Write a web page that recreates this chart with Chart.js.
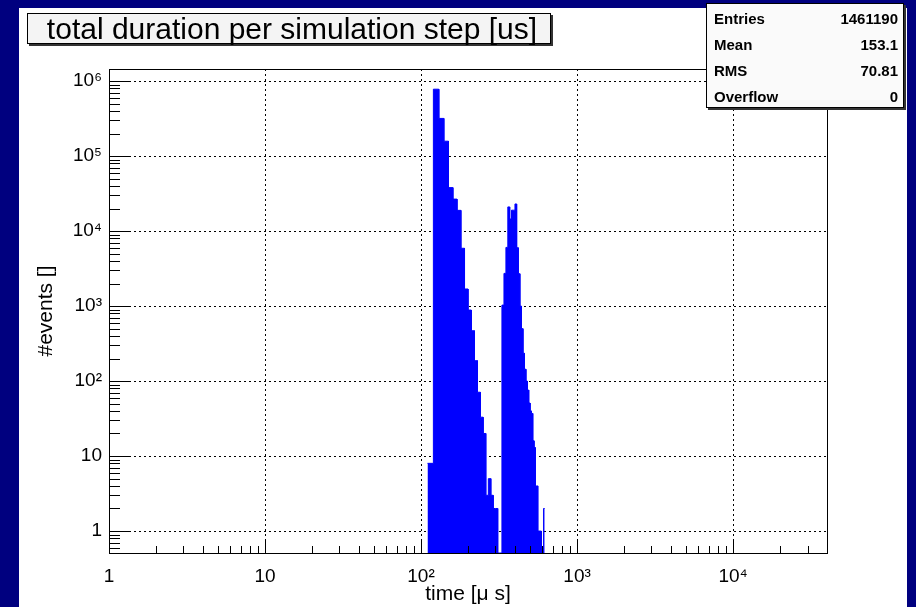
<!DOCTYPE html>
<html>
<head>
<meta charset="utf-8">
<title>total duration per simulation step</title>
<script src="https://cdn.jsdelivr.net/npm/chart.js@4.4.0/dist/chart.umd.min.js"></script>
<style>
  html, body { margin: 0; padding: 0; }
  body { width: 916px; height: 607px; background: #00007f; position: relative; overflow: hidden;
         font-family: "Liberation Sans", Arial, sans-serif; }
  #pad { position: absolute; left: 19px; top: 8px; width: 888px; height: 599px; background: #fff; }
  #chart { position: absolute; left: 0; top: 0; }
  .box { position: absolute; background: #f4f4f4; border: 1px solid #000; box-shadow: 2px 2px 0 #333; }
  #title { left: 27px; top: 13px; width: 516px; height: 29px; padding-left: 6px; font-size: 30px; line-height: 30px; text-align: center; white-space: nowrap; }
  #stats { left: 706px; top: 3px; width: 196px; height: 103px; font-weight: bold; font-size: 15px; background: #fafafa; }
  .row { position: absolute; left: 7px; right: 5px; height: 26px; line-height: 26px; display: flex; justify-content: space-between; }
</style>
</head>
<body>
<div id="pad"></div>
<canvas id="chart" width="916" height="607"></canvas>
<div id="title" class="box">total duration per simulation step [us]</div>
<div id="stats" class="box"></div>
<script>
// histogram: lower bin edges [us] and counts per bin (bin width 10 us)
const binLow = [110, 120, 130, 140, 150, 160, 170, 180, 190, 200,
                210, 220, 230, 240, 250, 260, 270, 280, 290, 300,
                310, 320, 330, 340, 350, 360, 370, 380, 390, 400,
                410, 420, 430, 440, 450, 460, 470, 480, 490, 500,
                510, 520, 530, 540, 550, 560, 570, 580, 590, 600, 610];
const counts = [8, 780000, 318000, 158000, 38000, 26700, 18900, 5900, 1690, 885,
                469, 187, 71, 33, 20, 3, 5, 3, 2, 2,
                0, 0, 1030, 2730, 6060, 21000, 14500, 19000, 19000, 23000,
                6000, 2700, 1000, 500, 235, 144, 100, 76, 51, 40,
                37, 16, 13, 4, 4, 1, 1, 1, 0, 0, 2];
const binWidth = 10;

const xTickValues = [1, 10, 100, 1000, 10000];
const xTickLabels = ['1', '10', '10²', '10³', '10⁴'];
const yTickValues = [1, 10, 100, 1000, 10000, 100000, 1000000];
const yTickLabels = ['1', '10', '10²', '10³', '10⁴', '10⁵', '10⁶'];

const statNames = ['Entries', 'Mean', 'RMS', 'Overflow'];
const statValues = ['1461190', '153.1', '70.81', '0'];

const xMin = 1, xMax = 40000;
const yMin = 0.51, yMax = 1.45e6;

// stats box
const statsBox = document.getElementById('stats');
statNames.forEach((name, i) => {
  const row = document.createElement('div');
  row.className = 'row';
  row.style.top = (2 + i * 26) + 'px';
  row.innerHTML = '<span>' + name + '</span><span>' + statValues[i] + '</span>';
  statsBox.appendChild(row);
});

// histogram outline: both edges of every bin, empty bins sit on the axis floor
const points = [];
binLow.forEach((lo, i) => {
  const y = counts[i] > 0 ? counts[i] : yMin;
  points.push({ x: lo, y: y }, { x: lo + binWidth, y: y });
});

const minorTicks = (lo, hi) => {
  const out = [];
  for (let d = 0.1; d <= hi; d *= 10) {
    for (let k = 2; k <= 9; k++) {
      const v = k * d;
      if (v > lo && v < hi) out.push(v);
    }
  }
  return out;
};

// ROOT style frame: dotted grid under the bars, ticks pointing inward on top
const rootFrame = {
  id: 'rootFrame',
  beforeDatasetsDraw(chart) {
    const { ctx, chartArea: a, scales: { x, y } } = chart;
    ctx.save();
    ctx.strokeStyle = '#000';
    ctx.lineWidth = 1;
    ctx.setLineDash([2, 3]);
    ctx.beginPath();
    xTickValues.forEach(v => {
      const px = Math.round(x.getPixelForValue(v)) + 0.5;
      ctx.moveTo(px, a.top); ctx.lineTo(px, a.bottom);
    });
    yTickValues.forEach(v => {
      const py = Math.round(y.getPixelForValue(v)) + 0.5;
      ctx.moveTo(a.left, py); ctx.lineTo(a.right, py);
    });
    ctx.stroke();
    ctx.restore();
  },
  afterDatasetsDraw(chart) {
    const { ctx, chartArea: a, scales: { x, y } } = chart;
    ctx.save();
    ctx.strokeStyle = '#000';
    ctx.lineWidth = 1;
    ctx.beginPath();
    xTickValues.forEach(v => {
      const px = Math.round(x.getPixelForValue(v)) + 0.5;
      ctx.moveTo(px, a.bottom); ctx.lineTo(px, a.bottom - 14);
    });
    minorTicks(xMin, xMax).forEach(v => {
      const px = Math.round(x.getPixelForValue(v)) + 0.5;
      ctx.moveTo(px, a.bottom); ctx.lineTo(px, a.bottom - 7);
    });
    yTickValues.forEach(v => {
      const py = Math.round(y.getPixelForValue(v)) + 0.5;
      ctx.moveTo(a.left, py); ctx.lineTo(a.left + 21, py);
    });
    minorTicks(yMin, yMax).forEach(v => {
      const py = Math.round(y.getPixelForValue(v)) + 0.5;
      ctx.moveTo(a.left, py); ctx.lineTo(a.left + 11, py);
    });
    ctx.stroke();
    ctx.strokeRect(Math.round(a.left) + 0.5, Math.round(a.top) + 0.5,
                   Math.round(a.right - a.left), Math.round(a.bottom - a.top));
    ctx.restore();
  }
};

Chart.defaults.font.family = '"Liberation Sans", Arial, sans-serif';
Chart.defaults.color = '#000';

new Chart(document.getElementById('chart'), {
  type: 'line',
  data: {
    datasets: [{
      data: points,
      fill: 'start',
      backgroundColor: '#0000ff',
      borderColor: '#0000ff',
      borderWidth: 1,
      pointRadius: 0,
      tension: 0
    }]
  },
  plugins: [rootFrame],
  options: {
    responsive: false,
    animation: false,
    devicePixelRatio: 1,
    layout: { padding: { left: 0, top: 69, right: 89, bottom: 0 } },
    plugins: { legend: { display: false }, tooltip: { enabled: false } },
    scales: {
      x: {
        type: 'logarithmic',
        min: xMin,
        max: xMax,
        grid: { display: false, drawTicks: false },
        border: { display: false },
        afterBuildTicks: s => { s.ticks = xTickValues.map(v => ({ value: v })); },
        afterFit: s => { s.height = 54; },
        ticks: {
          autoSkip: false,
          maxRotation: 0,
          padding: 12,
          font: { size: 19 },
          callback: (v, i) => xTickLabels[i]
        },
        title: { display: true, text: 'time [μ s]', font: { size: 21 }, padding: { top: 0, bottom: 0 } }
      },
      y: {
        type: 'logarithmic',
        min: yMin,
        max: yMax,
        grid: { display: false, drawTicks: false },
        border: { display: false },
        afterBuildTicks: s => { s.ticks = yTickValues.map(v => ({ value: v })); },
        afterFit: s => { s.width = 109; },
        ticks: {
          autoSkip: false,
          padding: 7,
          font: { size: 19 },
          callback: (v, i) => yTickLabels[i]
        },
        title: { display: true, text: '#events []', font: { size: 21 }, padding: { top: 34, bottom: 0 } }
      }
    }
  }
});
</script>
</body>
</html>
